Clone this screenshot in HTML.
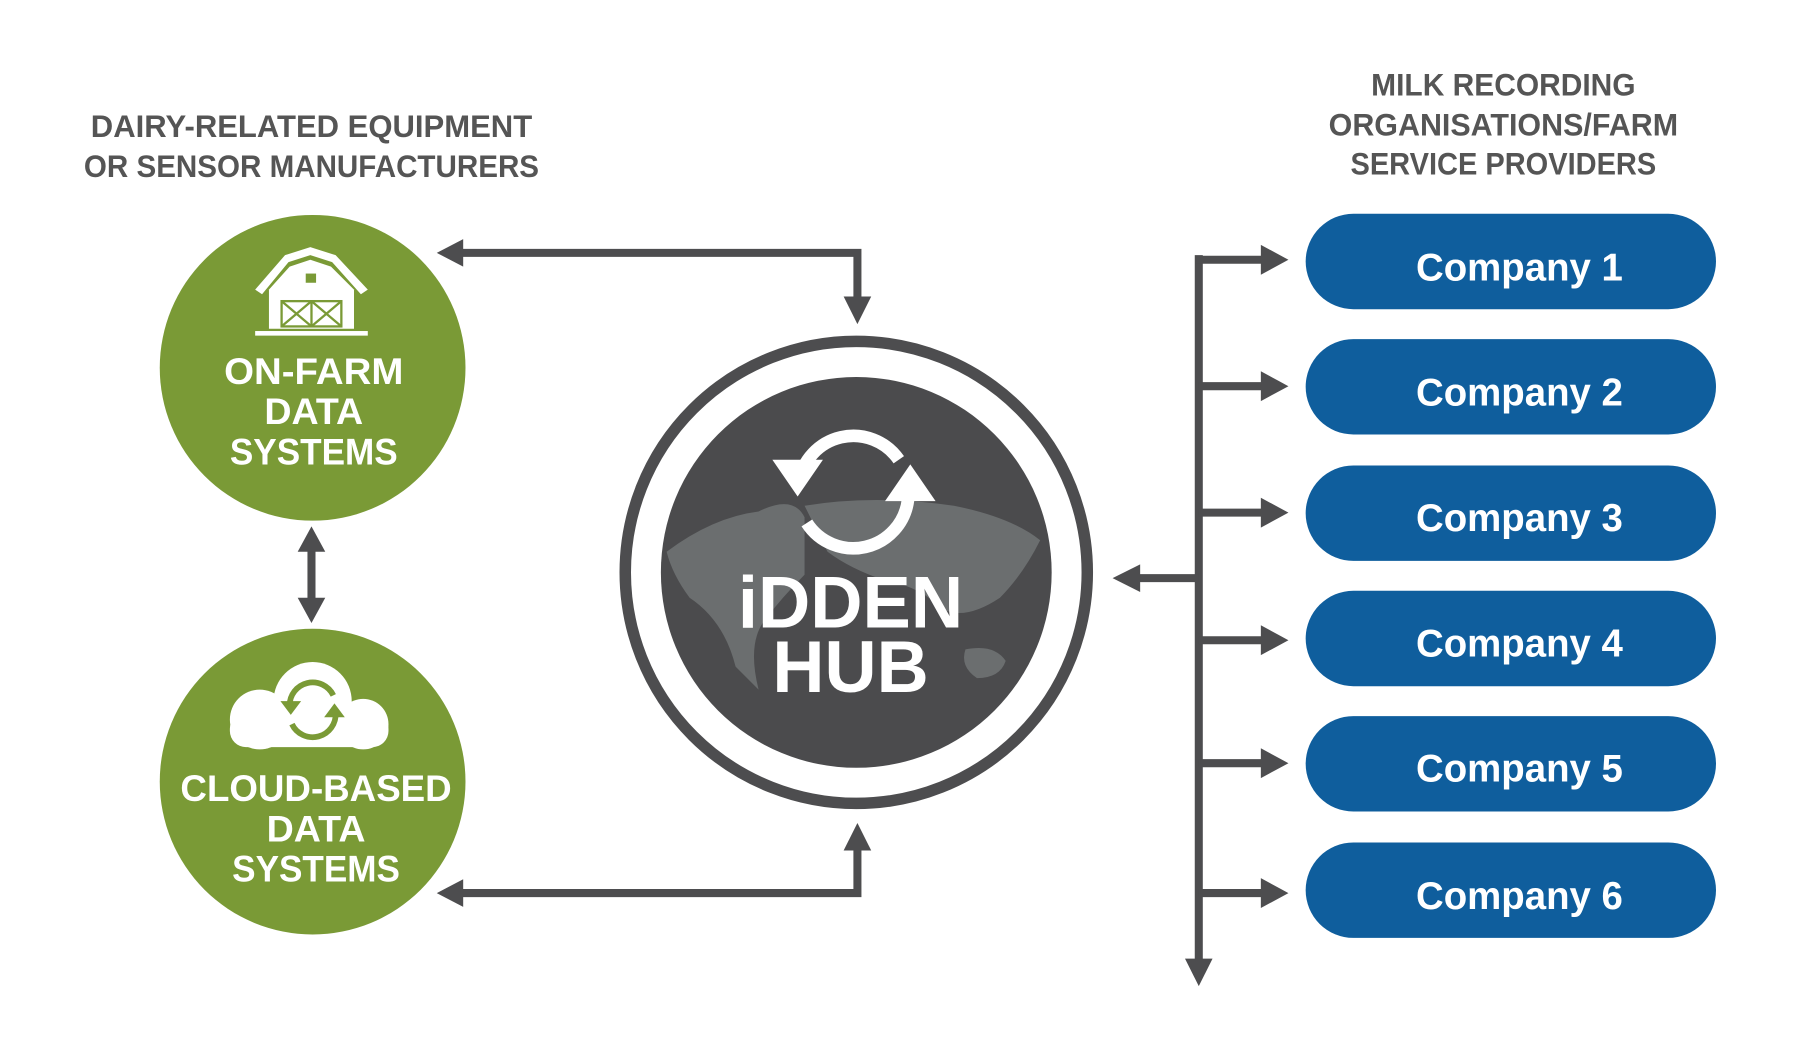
<!DOCTYPE html>
<html><head><meta charset="utf-8"><style>
html,body{margin:0;padding:0;background:#fff;width:1793px;height:1054px;overflow:hidden}
svg{display:block}
text{font-family:"Liberation Sans Narrow","Liberation Sans",sans-serif;font-weight:bold}
</style></head><body>
<svg width="1793" height="1054" viewBox="0 0 1560 917" preserveAspectRatio="none" xmlns="http://www.w3.org/2000/svg">
<rect width="1560" height="917" fill="#fff"/>
<!-- titles -->
<g fill="#555" font-size="27" text-anchor="middle">
<text x="271" y="119" textLength="384" lengthAdjust="spacingAndGlyphs">DAIRY-RELATED EQUIPMENT</text>
<text x="271" y="154" textLength="396" lengthAdjust="spacingAndGlyphs">OR SENSOR MANUFACTURERS</text>
<text x="1308" y="83" textLength="230" lengthAdjust="spacingAndGlyphs">MILK RECORDING</text>
<text x="1308" y="118" textLength="304" lengthAdjust="spacingAndGlyphs">ORGANISATIONS/FARM</text>
<text x="1308" y="152" textLength="266" lengthAdjust="spacingAndGlyphs">SERVICE PROVIDERS</text>
</g>
<!-- green circles -->
<circle cx="272" cy="320" r="133" fill="#7a9a36"/>
<circle cx="272" cy="680" r="133" fill="#7a9a36"/>
<!-- barn -->
<g fill="#fff">
<path d="M222 252 L248 222 L270 215 L292 222 L320 252 L314 256 L289 228 L270 222 L251 228 L228 256Z"/>
<path d="M234 252 L252 232 L270 226 L288 232 L308 252 L308 286 L234 286Z"/>
<rect x="222" y="288" width="98" height="4"/>
</g>
<rect x="266" y="238" width="9" height="8" fill="#7a9a36"/>
<g stroke="#7a9a36" stroke-width="2" fill="none">
<rect x="245" y="262" width="52" height="22"/>
<line x1="271" y1="262" x2="271" y2="284"/>
<path d="M245 262 L271 284 M271 262 L245 284 M271 262 L297 284 M297 262 L271 284"/>
</g>
<g fill="#fff" font-size="32" text-anchor="middle">
<text x="273" y="334" textLength="156" lengthAdjust="spacingAndGlyphs">ON-FARM</text>
<text x="273" y="369" textLength="86" lengthAdjust="spacingAndGlyphs">DATA</text>
<text x="273" y="404" textLength="146" lengthAdjust="spacingAndGlyphs">SYSTEMS</text>
<text x="275" y="697" textLength="236" lengthAdjust="spacingAndGlyphs">CLOUD-BASED</text>
<text x="275" y="732" textLength="86" lengthAdjust="spacingAndGlyphs">DATA</text>
<text x="275" y="767" textLength="146" lengthAdjust="spacingAndGlyphs">SYSTEMS</text>
</g>
<!-- cloud -->
<g fill="#fff">
<circle cx="272" cy="610" r="34"/>
<circle cx="226" cy="626" r="26"/>
<circle cx="316" cy="630" r="22"/>
<rect x="200" y="620" width="138" height="30" rx="14"/>
</g>
<g fill="none" stroke="#7a9a36" stroke-width="5">
<path d="M252 614 A20 20 0 0 1 290 605"/>
<path d="M292 620 A20 20 0 0 1 254 630"/>
</g>
<path d="M244 610 L262 610 L253 622Z M282 624 L300 624 L291 612Z" fill="#7a9a36"/>
<!-- connectors -->
<g stroke="#4d4d4f" stroke-width="7" fill="none">
<path d="M395 220 L746 220 L746 262"/>
<path d="M395 777 L746 777 L746 736"/>
<line x1="271" y1="475" x2="271" y2="526"/>
<line x1="1043" y1="222" x2="1043" y2="840"/>
<line x1="990" y1="503" x2="1043" y2="503"/>
</g>
<g fill="#4d4d4f">
<path d="M380 220 L403 208 L403 232Z"/>
<path d="M380 777 L403 765 L403 789Z"/>
<path d="M746 282 L734 258 L758 258Z"/>
<path d="M746 716 L734 740 L758 740Z"/>
<path d="M271 458 L259 480 L283 480Z"/>
<path d="M271 542 L259 520 L283 520Z"/>
<path d="M1043 858 L1031 834 L1055 834Z"/>
<path d="M968 503 L992 491 L992 515Z"/>
</g>
<!-- branches & pills -->
<g id="b">
</g>
<g stroke="#4d4d4f" stroke-width="7">
<line x1="1040" y1="226" x2="1102" y2="226"/>
<line x1="1043" y1="336" x2="1102" y2="336"/>
<line x1="1043" y1="446" x2="1102" y2="446"/>
<line x1="1043" y1="557" x2="1102" y2="557"/>
<line x1="1043" y1="664" x2="1102" y2="664"/>
<line x1="1043" y1="777" x2="1102" y2="777"/>
</g>
<g fill="#4d4d4f">
<path d="M1121 226 L1097 213 L1097 239Z"/>
<path d="M1121 336 L1097 323 L1097 349Z"/>
<path d="M1121 446 L1097 433 L1097 459Z"/>
<path d="M1121 557 L1097 544 L1097 570Z"/>
<path d="M1121 664 L1097 651 L1097 677Z"/>
<path d="M1121 777 L1097 764 L1097 790Z"/>
</g>
<g fill="#0f5e9d">
<rect x="1136" y="186" width="357" height="83" rx="41.5"/>
<rect x="1136" y="295" width="357" height="83" rx="41.5"/>
<rect x="1136" y="405" width="357" height="83" rx="41.5"/>
<rect x="1136" y="514" width="357" height="83" rx="41.5"/>
<rect x="1136" y="623" width="357" height="83" rx="41.5"/>
<rect x="1136" y="733" width="357" height="83" rx="41.5"/>
</g>
<g fill="#fff" font-size="34" text-anchor="middle">
<text x="1322" y="244" textLength="180" lengthAdjust="spacingAndGlyphs">Company 1</text>
<text x="1322" y="353" textLength="180" lengthAdjust="spacingAndGlyphs">Company 2</text>
<text x="1322" y="462" textLength="180" lengthAdjust="spacingAndGlyphs">Company 3</text>
<text x="1322" y="571" textLength="180" lengthAdjust="spacingAndGlyphs">Company 4</text>
<text x="1322" y="680" textLength="180" lengthAdjust="spacingAndGlyphs">Company 5</text>
<text x="1322" y="791" textLength="180" lengthAdjust="spacingAndGlyphs">Company 6</text>
</g>
<!-- hub -->
<circle cx="745" cy="498" r="201" fill="none" stroke="#4d4d4f" stroke-width="10"/>
<circle cx="745" cy="498" r="170" fill="#4b4b4d"/>
<g fill="#6b6e6f">
<path d="M580 480 Q620 450 660 445 Q690 430 700 450 L700 500 Q680 520 665 540 Q650 560 660 600 L640 580 Q630 540 600 520 Q585 500 580 480Z"/>
<path d="M700 440 Q760 430 830 440 Q880 450 905 470 Q890 500 870 520 Q840 540 820 530 Q800 510 770 505 Q740 495 720 480 Z"/>
<path d="M840 565 Q865 560 875 575 Q870 590 850 590 Q835 580 840 565Z"/>
</g>
<g fill="none" stroke="#fff" stroke-width="11">
<path d="M695 420 A48 48 0 0 1 782 400"/>
<path d="M790 435 A48 48 0 0 1 702 455"/>
</g>
<path d="M672 400 L716 400 L694 432Z M770 436 L814 436 L792 404Z" fill="#fff"/>
<g fill="#fff" font-family="Liberation Sans" text-anchor="middle">
<text x="740" y="546" font-size="64" textLength="196" lengthAdjust="spacingAndGlyphs" style="font-family:'Liberation Sans',sans-serif">iDDEN</text>
<text x="740" y="602" font-size="64" textLength="136" lengthAdjust="spacingAndGlyphs" style="font-family:'Liberation Sans',sans-serif">HUB</text>
</g>
</svg>
</body></html>
